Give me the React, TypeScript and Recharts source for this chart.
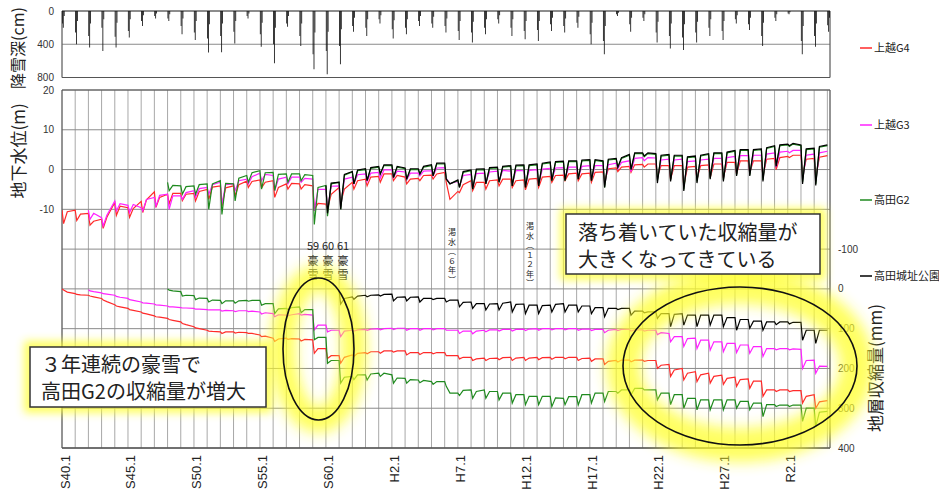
import React from 'react';
import { ComposedChart, Line, Bar, XAxis, YAxis, CartesianGrid, ReferenceArea } from 'recharts';

const FONT = "'Liberation Sans', Arial, 'Noto Sans CJK JP', sans-serif";
const JP = "'Noto Sans CJK JP', 'Noto Sans CJK SC', sans-serif";

const FIRST_YEAR = 1965;
const END_T = 2023.2;
const YEARS = Array.from({ length: 59 }, (_, i) => FIRST_YEAR + i);
const LABEL_YEARS = [1965, 1970, 1975, 1980, 1985, 1990, 1995, 2000, 2005, 2010, 2015, 2020];
const LABEL_TEXT = ['S40.1', 'S45.1', 'S50.1', 'S55.1', 'S60.1', 'H2.1', 'H7.1', 'H12.1', 'H17.1', 'H22.1', 'H27.1', 'R2.1'];
const GW_TICKS = [-70, -60, -50, -40, -30, -20, -10, 0, 10, 20];
const SH_TICKS = [-500, -400, -300, -200, -100, 0, 100, 200, 300, 400];

// snow depth (cm), three winter bars per year 1965..2023
const snowA = [150, 260, 300, 200, 310, 240, 120, 60, 90, 180,
  260, 330, 300, 250, 60, 280, 400, 150, 300, 520,
  480, 420, 180, 200, 100, 220, 200, 120, 150, 180,
  240, 260, 200, 100, 200, 240, 230, 160, 180, 140,
  280, 360, 40, 160, 80, 260, 300, 320, 260, 200,
  240, 100, 160, 300, 80, 30, 360, 300, 170];
const snowB = [200, 400, 440, 480, 440, 320, 180, 90, 120, 280,
  350, 500, 495, 390, 90, 430, 630, 190, 420, 700,
  760, 640, 250, 300, 150, 330, 280, 180, 200, 260,
  350, 380, 280, 150, 300, 340, 360, 240, 260, 200,
  400, 520, 60, 250, 120, 380, 450, 470, 380, 300,
  350, 150, 230, 420, 120, 40, 520, 430, 250];
const snowC = [60, 120, 150, 100, 140, 100, 50, 30, 40, 90,
  120, 160, 150, 120, 30, 140, 200, 60, 150, 260,
  250, 220, 80, 100, 50, 110, 100, 60, 70, 90,
  120, 130, 100, 50, 100, 120, 120, 80, 90, 70,
  140, 180, 20, 80, 40, 130, 150, 160, 130, 100,
  120, 50, 80, 140, 40, 15, 180, 150, 80];

// groundwater level (m): per year [pre-winter, winter low, mid-year]
const gwG4 = [
  -10.2, -13.6, -10.6, -10.2, -12.8, -11.2, -11.0, -14.0, -13.0, -12.5, -14.8, -12.0, -8.3, -11.5, -9.2,
  -9.6, -12.0, -9.8, -8.0, -10.8, -7.6, -5.6, -9.5, -7.0, -6.2, -8.6, -6.0, -6.0, -7.8, -6.2,
  -6.0, -7.9, -5.5, -5.0, -7.5, -4.4, -4.1, -9.2, -4.6, -4.1, -6.6, -3.8, -2.9, -4.5, -3.0,
  -2.6, -4.6, -3.2, -2.8, -7.0, -4.5, -3.6, -4.9, -3.5, -3.6, -4.9, -3.8, -4.1, -10.0, -8.5,
  -8.7, -10.0, -6.2, -4.5, -8.3, -4.9, -3.2, -4.9, -2.8, -2.4, -4.1, -1.9, -1.7, -3.2, -1.1,
  -1.1, -2.8, -1.5, -1.9, -3.6, -2.4, -2.2, -2.8, -1.5, -1.4, -2.4, -1.1, -0.7, -3.2, -7.5,
  -5.5, -5.8, -3.8, -2.8, -5.3, -3.2, -3.2, -4.9, -2.8, -2.6, -4.1, -2.4, -2.4, -4.5, -2.8,
  -2.6, -5.1, -2.4, -2.2, -4.5, -1.9, -1.7, -3.2, -1.5, -1.4, -2.8, -1.1,
  -0.9, -2.8, -1.1, -0.9, -3.2, -0.7, -0.6, -3.0, 0.2, 0.4, -0.5, 0.6, 0.8, -0.7, 1.2,
  1.3, 0.6, 1.4, 1.4, -1.8, 1.0, 1.0, -2.4, 1.0, 1.0, -4.1, 0.6, 0.8, -2.4, 1.0,
  1.2, -2.0, 1.4, 1.4, -2.0, 1.8, 1.8, -1.1, 2.2, 2.2, -0.7, 2.2, 2.2, -1.5, 2.6,
  2.8, 0.0, 3.0, 3.3, 3.0, 3.6, 3.6, -1.5, 2.6, 2.8, -2.0, 3.1, 3.5];
const gwG3 = [
  -10.2, -12.5, -11.0, -12.1, -14.2, -11.5, -7.9, -10.4, -8.6,
  -9.0, -10.8, -8.8, -9.6, -10.4, -7.5, -7.0, -9.2, -6.5, -6.2, -10.0, -6.6, -6.6, -7.5, -5.8,
  -5.3, -7.0, -4.8, -4.5, -6.2, -3.8, -3.2, -8.7, -3.8, -3.6, -5.3, -2.8, -2.4, -3.6, -1.8,
  -0.9, -2.8, -1.2, -1.5, -5.3, -2.4, -1.9, -3.6, -1.9, -1.9, -3.2, -2.2, -2.4, -10.4, -5.0,
  -5.0, -10.0, -4.2, -4.1, -9.5, -2.4, -1.9, -3.6, -1.3, -1.1, -3.0, -0.9, -0.7, -2.2, -0.1,
  -0.1, -2.0, -0.4, -0.6, -2.6, -0.9, -0.9, -1.6, -0.4, -0.3, -1.6, 0.4, 0.5, -2.2, -3.5,
  -3.0, -4.2, -1.5, -1.2, -4.6, -1.0, -0.9, -3.4, -0.6, -0.4, -3.0, -0.2, -0.4, -3.8, -0.2,
  -0.3, -4.2, -0.2, 0.0, -3.8, 0.1, 0.3, -2.6, 0.4, 0.5, -2.4, 0.6,
  0.6, -2.2, 0.8, 1.0, -2.6, 1.0, 1.0, -4.0, 1.2, 1.6, 0.2, 1.8, 2.2, -0.5, 2.8,
  3.0, 2.2, 3.0, 2.9, -2.4, 2.4, 2.6, -2.2, 2.4, 2.6, -4.2, 2.0, 2.2, -2.6, 2.4,
  2.6, -1.8, 2.8, 2.8, -2.2, 3.0, 3.3, -1.0, 3.5, 3.5, -1.0, 3.6, 3.6, -2.0, 3.9,
  4.2, 0.6, 4.4, 4.6, 4.2, 4.8, 4.8, -2.6, 3.6, 3.9, -3.0, 4.2, 4.6];
const gwG2 = [
  -3.2, -5.3, -4.0, -4.1, -6.2, -4.3,
  -4.1, -6.2, -3.8, -3.6, -10.0, -3.6, -2.8, -11.3, -3.5, -3.6, -7.9, -2.2, -1.5, -3.2, -0.8,
  -0.3, -4.9, -0.8, -0.7, -5.3, -1.2, -1.1, -3.2, -1.1, -1.1, -2.8, -1.3, -1.5, -13.8, -4.5,
  -4.0, -11.7, -3.6, -3.2, -10.0, -1.4, -0.6, -3.6, -0.3, 0.0, -2.8, 0.3, 0.6, -1.1, 1.0,
  1.0, -2.0, 0.6, 0.2, -2.4, 0.0, 0.0, -1.1, 0.6, 1.0, -1.6, 1.4, 1.4, -2.4, -3.6,
  -2.8, -4.5, -0.7, -0.3, -4.9, -0.1, 0.0, -3.6, 0.3, 0.4, -3.2, 0.6, 0.8, -4.1, 0.9,
  1.0, -4.5, 1.0, 1.2, -4.1, 1.4, 1.7, -2.8, 1.8, 1.9, -2.8, 2.0,
  2.0, -2.4, 2.2, 2.3, -2.8, 2.3, 2.0, -4.5, 2.4, 2.6, 0.6, 2.8, 3.6, 0.0, 4.0,
  4.0, 3.2, 4.0, 3.8, -2.8, 3.4, 3.6, -2.6, 3.4, 3.4, -5.0, 3.0, 3.2, -3.0, 3.4,
  3.8, -2.2, 4.0, 4.0, -2.6, 4.2, 4.6, -1.4, 4.8, 4.8, -1.4, 4.8, 5.0, -2.6, 5.3,
  5.8, 1.0, 6.0, 6.2, 5.8, 6.4, 6.0, -3.2, 5.0, 5.2, -3.6, 5.6, 6.0];
const gwPark = [
  -4.0, -11.0, -3.4, -3.2, -10.0, -1.2, -0.5, -3.6, -0.1, 0.2, -2.8, 0.5, 0.8, -1.1, 1.2,
  1.2, -2.0, 0.8, 0.4, -2.4, 0.2, 0.2, -1.1, 0.8, 1.2, -1.6, 1.6, 1.6, -2.4, -3.6,
  -2.6, -4.5, -0.5, -0.1, -4.9, 0.1, 0.2, -3.6, 0.5, 0.6, -3.2, 0.8, 1.0, -4.1, 1.1,
  1.2, -4.5, 1.2, 1.4, -4.1, 1.6, 1.9, -2.8, 2.0, 2.1, -2.8, 2.2,
  2.2, -2.4, 2.4, 2.5, -2.8, 2.5, 2.2, -4.5, 2.6, 2.8, 0.6, 3.0, 3.8, 0.0, 4.2,
  4.2, 3.4, 4.2, 4.0, -3.4, 3.6, 3.8, -3.0, 3.6, 3.6, -5.4, 3.2, 3.4, -3.4, 3.6,
  4.0, -2.4, 4.2, 4.2, -3.0, 4.4, 4.8, -1.6, 5.0, 5.0, -1.6, 5.0, 5.2, -3.0, 5.5,
  6.0, 0.8, 6.2, 6.4, 6.0, 6.6, 6.2, -3.6, 5.2, 5.4, -4.0, 5.8, 6.2];

// cumulative compaction (mm): per year [pre-winter, winter peak, mid-year]
const shG4 = [
  0, 3, 8, 12, 14, 15, 16, 18, 20, 24, 28, 32, 40, 43, 45,
  49, 52, 54, 58, 61, 63, 68, 70, 71, 74, 77, 79, 83, 87, 90,
  95, 98, 100, 104, 106, 107, 108, 112, 108, 108, 111, 109, 110, 112, 112,
  116, 120, 119, 124, 132, 126, 124, 127, 125, 126, 131, 127, 128, 162, 150,
  150, 175, 168, 168, 187, 172, 166, 170, 162, 160, 163, 158, 158, 162, 156,
  156, 159, 156, 156, 166, 160, 160, 165, 160, 160, 163, 160, 160, 168, 168,
  168, 176, 172, 172, 180, 176, 174, 180, 175, 174, 178, 173, 172, 180, 174,
  172, 180, 174, 172, 178, 173, 172, 177, 172, 172, 176, 172,
  172, 180, 175, 174, 182, 176, 176, 190, 182, 180, 184, 179, 179, 183, 179,
  179, 182, 180, 180, 200, 192, 190, 220, 204, 200, 229, 212, 208, 233, 216,
  212, 237, 220, 217, 240, 225, 222, 245, 228, 226, 250, 232, 232, 270, 254,
  254, 258, 254, 254, 258, 256, 256, 287, 270, 266, 300, 284, 281];
const shG3 = [
  2, 5, 7, 10, 12, 13, 16, 19, 21,
  24, 27, 29, 33, 35, 36, 38, 40, 41, 43, 45, 45, 47, 48, 48,
  49, 51, 51, 52, 53, 53, 53, 56, 54, 55, 57, 55, 55, 57, 56,
  58, 63, 60, 62, 70, 65, 66, 68, 65, 62, 66, 64, 66, 103, 91,
  91, 108, 104, 104, 120, 106, 104, 106, 103, 102, 104, 101, 100, 103, 100,
  99, 102, 99, 99, 104, 100, 100, 104, 100, 100, 103, 100, 100, 104, 104,
  104, 112, 106, 106, 113, 106, 104, 108, 103, 103, 106, 102, 102, 106, 102,
  101, 105, 101, 100, 104, 100, 100, 103, 100, 100, 103, 100,
  100, 104, 101, 101, 105, 102, 102, 110, 104, 102, 105, 102, 102, 106, 103,
  103, 106, 104, 104, 115, 110, 112, 133, 120, 120, 145, 125, 124, 150, 129,
  129, 154, 133, 133, 158, 137, 137, 160, 141, 141, 162, 145, 145, 170, 150,
  150, 153, 150, 150, 153, 151, 152, 200, 180, 179, 212, 194, 195];
const shG2 = [
  0, 3, 5, 7, 18, 16,
  17, 27, 23, 24, 33, 28, 29, 37, 30, 30, 36, 30, 29, 31, 29,
  29, 41, 37, 37, 62, 50, 49, 52, 47, 45, 60, 52, 52, 128, 122,
  122, 187, 180, 180, 237, 222, 220, 228, 216, 216, 229, 214, 212, 220, 212,
  216, 237, 224, 225, 237, 228, 229, 236, 230, 233, 240, 233, 233, 245, 262,
  262, 268, 255, 254, 275, 258, 254, 275, 258, 258, 279, 262, 262, 287, 266,
  266, 291, 270, 270, 291, 270, 270, 296, 274, 275, 291, 271,
  271, 292, 266, 266, 287, 262, 262, 283, 258, 258, 262, 254, 254, 266, 250,
  250, 254, 254, 254, 279, 262, 262, 291, 266, 266, 300, 275, 275, 304, 279,
  279, 304, 279, 279, 304, 279, 279, 300, 283, 283, 304, 287, 287, 321, 291,
  291, 296, 292, 292, 296, 292, 292, 333, 300, 300, 346, 310, 308];
const shPark = [
  5, 38, 24, 20, 26, 18, 16, 20, 16, 15, 18, 14, 13, 30, 21,
  20, 30, 21, 20, 33, 24, 24, 27, 24, 24, 33, 28, 28, 45, 34,
  33, 49, 37, 37, 53, 38, 37, 53, 36, 33, 58, 39, 38, 62, 41,
  41, 62, 42, 41, 58, 39, 37, 58, 41,
  41, 58, 43, 43, 62, 47, 47, 70, 49, 49, 52, 49, 49, 66, 56,
  56, 60, 58, 58, 74, 62, 62, 95, 64, 62, 91, 66, 66, 95, 66,
  66, 91, 66, 66, 95, 72, 72, 104, 77, 77, 99, 81, 81, 104, 83,
  83, 90, 83, 83, 88, 84, 84, 129, 104, 104, 137, 104, 104];

const SERIES = [
  { key: 'gwG4', start: 1965, vals: gwG4, axis: 'gw', color: '#ff2a2a' },
  { key: 'gwG3', start: 1967, vals: gwG3, axis: 'gw', color: '#ff22ff' },
  { key: 'gwG2', start: 1973, vals: gwG2, axis: 'gw', color: '#1f8a1f' },
  { key: 'gwPark', start: 1985, vals: gwPark, axis: 'gw', color: '#000000' },
  { key: 'shG4', start: 1965, vals: shG4, axis: 'sh', color: '#ff2a2a' },
  { key: 'shG3', start: 1967, vals: shG3, axis: 'sh', color: '#ff22ff' },
  { key: 'shG2', start: 1973, vals: shG2, axis: 'sh', color: '#1f8a1f' },
  { key: 'shPark', start: 1986, vals: shPark, axis: 'sh', color: '#000000' },
];

const PHASE = [0, 0.12, 0.4];
function buildRows() {
  const map = new Map<string, any>();
  SERIES.forEach((s) => {
    s.vals.forEach((v, i) => {
      const t = s.start + Math.floor(i / 3) + PHASE[i % 3];
      const k = t.toFixed(2);
      let r = map.get(k);
      if (!r) { r = { t: Number(k) }; map.set(k, r); }
      r[s.key] = v;
    });
  });
  return Array.from(map.values()).sort((a, b) => a.t - b.t);
}
const rows = buildRows();

const snowRows: { t: number; s: number }[] = [];
YEARS.forEach((y, i) => {
  snowRows.push({ t: y + 0.03, s: snowA[i] });
  snowRows.push({ t: y + 0.1, s: snowB[i] });
  snowRows.push({ t: y + 0.17, s: snowC[i] });
});

const YearTick = (props: any) => {
  const { x, payload } = props;
  const idx = LABEL_YEARS.indexOf(payload.value);
  if (idx < 0) return <g />;
  const ax = x + 7.5;
  const ay = 375;
  return (
    <text x={ax} y={ay} transform={`rotate(-90, ${ax}, ${ay})`} textAnchor="end"
      fontSize={13} fill="#222" fontFamily={FONT}>{LABEL_TEXT[idx]}</text>
  );
};

const LEGEND = [
  { name: '上越G4', color: '#ff2a2a', y: 48 },
  { name: '上越G3', color: '#ff22ff', y: 125 },
  { name: '高田G2', color: '#1f8a1f', y: 200 },
  { name: '高田城址公園', color: '#000000', y: 276 },
];

// a vertical column of characters as one text element
const Column = ({ x, y, chars, step, size, font }: any) => (
  <text textAnchor="middle" fontSize={size} fill="#222" fontFamily={font || JP}>
    {chars.map((c: string, i: number) => (
      <tspan key={i} x={x} y={y + i * step}>{c}</tspan>
    ))}
  </text>
);

export default function App() {
  return (
    <div style={{ position: 'absolute', left: 0, top: 0, width: 939, height: 491, background: '#fff', overflow: 'hidden', fontFamily: FONT }}>
      <div style={{ position: 'absolute', left: 0, top: 0 }}>
        <ComposedChart width={939} height={84} data={snowRows} margin={{ top: 11, right: 109, bottom: 6.5, left: 0 }}>
          <CartesianGrid vertical horizontal={false} stroke="#c4c4c4" />
          <CartesianGrid vertical={false} horizontal stroke="#8a8a8a" />
          <XAxis type="number" dataKey="t" domain={[FIRST_YEAR, END_T]} ticks={YEARS} interval={0}
            tick={false} tickLine={false} axisLine={false} height={0} allowDataOverflow />
          <YAxis width={62} reversed domain={[0, 800]} ticks={[0, 400, 800]} tickLine={false} axisLine={false}
            tick={{ fontSize: 10, fill: '#333', fontFamily: FONT }} />
          <Bar dataKey="s" fill="#111" barSize={1.5} isAnimationActive={false} />
          <ReferenceArea x1={FIRST_YEAR} x2={END_T} y1={0} y2={800} fill="none" stroke="#555" strokeWidth={1} />
        </ComposedChart>
      </div>
      <div style={{ position: 'absolute', left: 0, top: 80 }}>
        <ComposedChart width={939} height={411} data={rows} margin={{ top: 10, right: 69, bottom: 0, left: 0 }}>
          <CartesianGrid vertical horizontal={false} stroke="#a8a8a8" />
          <CartesianGrid yAxisId="gw" vertical={false} horizontal stroke="#8a8a8a" />
          <XAxis type="number" dataKey="t" domain={[FIRST_YEAR, END_T]} ticks={YEARS} interval={0}
            height={43} tickLine={false} axisLine={{ stroke: '#555' }} tick={(p: any) => <YearTick {...p} />} allowDataOverflow />
          <YAxis yAxisId="gw" width={62} domain={[-70, 20]} ticks={GW_TICKS} interval={0} tickLine={false} axisLine={false}
            tickFormatter={(v: number) => (v >= -10 ? String(v) : '')} tick={{ fontSize: 10, fill: '#333', fontFamily: FONT }} />
          <YAxis yAxisId="sh" orientation="right" width={40} reversed domain={[-500, 400]} ticks={SH_TICKS} interval={0}
            tickLine={false} axisLine={false} tickFormatter={(v: number) => (v >= -100 ? String(v) : '')}
            tick={{ fontSize: 10, fill: '#333', fontFamily: FONT }} />
          {SERIES.map((s) => (
            <Line key={s.key} yAxisId={s.axis} dataKey={s.key} type="linear" stroke={s.color} strokeWidth={1.2}
              dot={false} connectNulls isAnimationActive={false} />
          ))}
          <ReferenceArea yAxisId="gw" x1={FIRST_YEAR} x2={END_T} y1={-70} y2={20} fill="none" stroke="#555" strokeWidth={1} />
        </ComposedChart>
      </div>
      <svg width={939} height={491} style={{ position: 'absolute', left: 0, top: 0, pointerEvents: 'none' }}>
        <defs>
          <filter id="glowBig" x="-50%" y="-50%" width="200%" height="200%"><feGaussianBlur stdDeviation="7" /></filter>
          <filter id="glowSmall" x="-50%" y="-50%" width="200%" height="200%"><feGaussianBlur stdDeviation="4" /></filter>
        </defs>
        {/* axis titles */}
        <text transform="translate(24,48) rotate(-90)" textAnchor="middle" fontSize={16} fill="#222" fontFamily={JP}>降雪深(cm)</text>
        <text transform="translate(25,151) rotate(-90)" textAnchor="middle" fontSize={17} fill="#222" fontFamily={JP}>地下水位(m)</text>
        <text transform="translate(882,368) rotate(-90)" textAnchor="middle" fontSize={17} fill="#222" fontFamily={JP}>地層収縮量(mm)</text>
        {/* legend */}
        {LEGEND.map((l) => (
          <g key={l.name}>
            <line x1={860} x2={872} y1={l.y} y2={l.y} stroke={l.color} strokeWidth={1.5} />
            <text x={874} y={l.y + 4} fontSize={11} fill="#222" fontFamily={JP}>{l.name}</text>
          </g>
        ))}
        {/* heavy snow annotations */}
        <Column x={313} y={250} chars={['59', '豪', '雪']} step={14.5} size={11} />
        <Column x={328} y={250} chars={['60', '豪', '雪']} step={14.5} size={11} />
        <Column x={343} y={250} chars={['61', '豪', '雪']} step={14.5} size={11} />
        <Column x={452} y={235} chars={['渇', '水', '︵', '６', '年', '︶']} step={9.5} size={8} />
        <Column x={530} y={229} chars={['渇', '水', '︵', '１', '２', '年', '︶']} step={9.5} size={8} />
        {/* glows */}
        <g filter="url(#glowBig)" opacity={0.75}>
          <ellipse cx={318.5} cy={349} rx={35.5} ry={71} fill="none" stroke="#ffff2a" strokeWidth={26} />
          <ellipse cx={740} cy={366} rx={117} ry={79} fill="none" stroke="#ffff2a" strokeWidth={34} />
        </g>
        <g filter="url(#glowSmall)" opacity={0.75}>
          <rect x={566} y={214} width={254} height={60} fill="none" stroke="#ffff2a" strokeWidth={12} />
          <rect x={30} y={347} width={236} height={60} fill="none" stroke="#ffff2a" strokeWidth={12} />
        </g>
        <ellipse cx={318.5} cy={349} rx={35.5} ry={71} fill="none" stroke="#111" strokeWidth={1.6} />
        <ellipse cx={740} cy={366} rx={117} ry={79} fill="none" stroke="#111" strokeWidth={1.6} />
        {/* text boxes */}
        <rect x={566} y={214} width={254} height={60} fill="#fff" stroke="#333" strokeWidth={1.5} />
        <text fontSize={20} fill="#222" fontFamily={JP}>
          <tspan x={578} y={240}>落ち着いていた収縮量が</tspan>
          <tspan x={578} y={267}>大きくなってきている</tspan>
        </text>
        <rect x={30} y={347} width={236} height={60} fill="#fff" stroke="#333" strokeWidth={1.5} />
        <text fontSize={20} fill="#222" fontFamily={JP}>
          <tspan x={41} y={372}>３年連続の豪雪で</tspan>
          <tspan x={41} y={399}>高田G2の収縮量が増大</tspan>
        </text>
      </svg>
    </div>
  );
}
